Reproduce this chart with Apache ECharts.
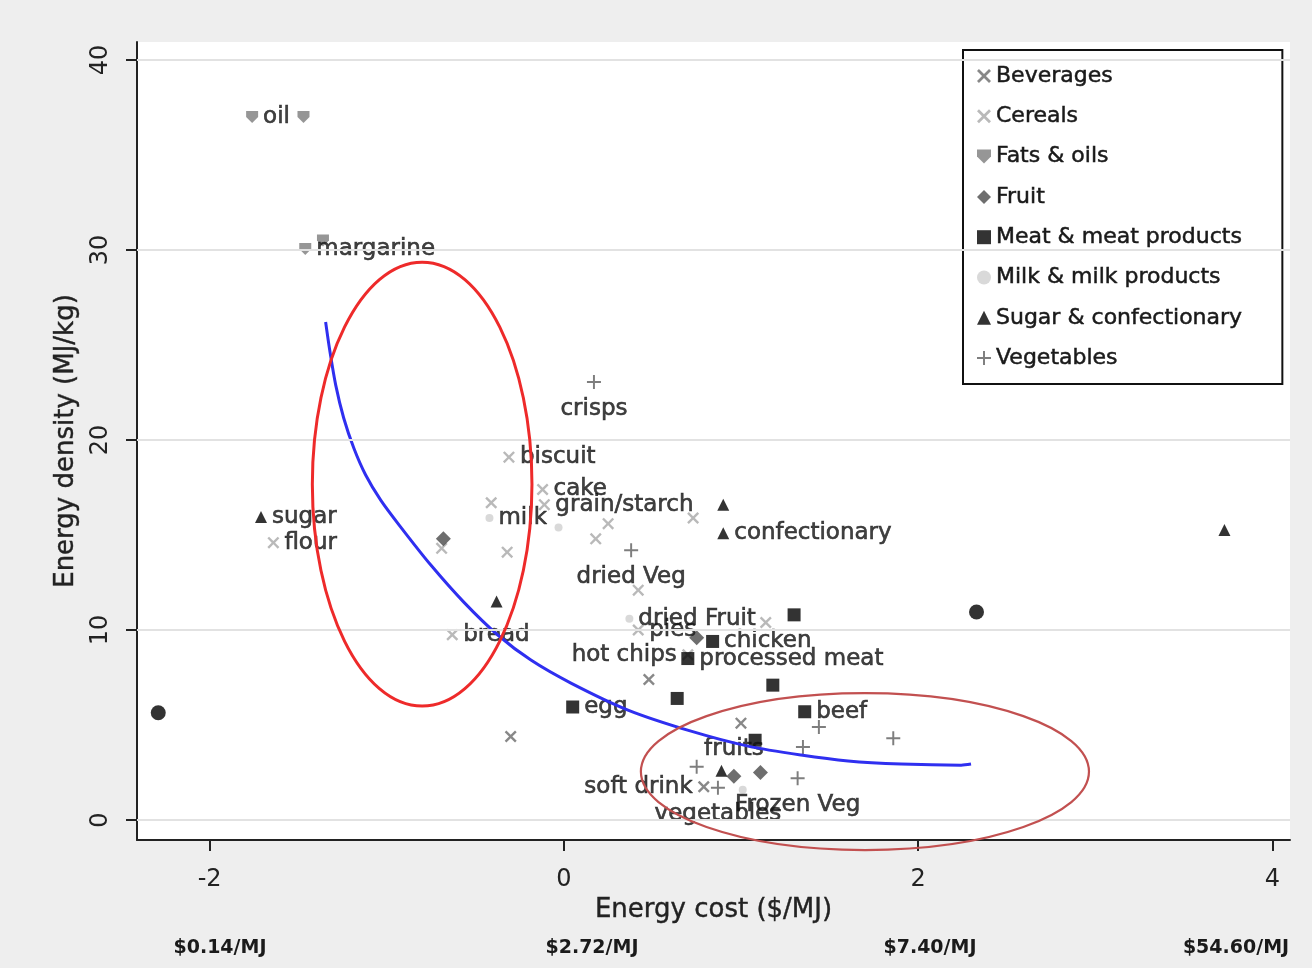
<!DOCTYPE html>
<html>
<head>
<meta charset="utf-8">
<title>Energy density vs energy cost</title>
<script src="https://cdn.jsdelivr.net/npm/echarts@6/dist/echarts.min.js"></script>
<style>
  html, body { margin: 0; padding: 0; background: #eeeeee; }
  #chart { width: 1312px; height: 968px; }
</style>
</head>
<body>
<div id="chart"></div>
<script>
// x = log energy cost, y = energy density (MJ/kg)
const beverages = [[-0.30, 4.4], [0.79, 1.75], [0.48, 7.4], [1.00, 5.1]];
const beverageNames = ['', 'soft drink', '', ''];

const cereals = [[-0.31, 19.1], [-0.41, 16.7], [-0.12, 17.4], [-0.11, 16.6], [0.25, 15.6], [0.18, 14.8],
  [0.73, 15.9], [-1.64, 14.6], [-0.69, 14.3], [-0.32, 14.1], [-0.63, 9.75], [0.42, 12.1], [0.42, 10.0],
  [1.14, 10.4], [0.70, 8.7]];
const cerealNames = ['biscuit', '', 'cake', 'grain/starch', '', '', '', 'flour', '', '', 'bread', '', 'pies', '', 'hot chips'];

const fats = [[-1.76, 37.0], [-1.47, 37.0], [-1.46, 30.05], [-1.36, 30.5]];
const fatNames = ['oil', '', 'margarine', ''];

const fruit = [[-0.68, 14.8], [0.75, 9.6], [0.96, 2.3], [1.11, 2.5]];
const fruitNames = ['', '', 'fruits', ''];

const meat = [[0.84, 9.4], [0.70, 8.5], [0.05, 5.95], [0.64, 6.4], [1.30, 10.8], [1.18, 7.1], [1.08, 4.2], [1.36, 5.7]];
const meatNames = ['chicken', 'processed meat', 'egg', '', '', '', '', 'beef'];

const milk = [[-0.42, 15.9], [-0.03, 15.4], [0.37, 10.6], [1.01, 1.6]];
const milkNames = ['milk', '', 'dried Fruit', ''];

const sugar = [[-1.71, 15.95], [-0.38, 11.5], [0.90, 16.6], [0.90, 15.1], [3.73, 15.26], [0.89, 2.6]];
const sugarNames = ['sugar', '', '', 'confectionary', '', ''];

const vegetables = [[0.17, 23.05], [0.38, 14.2], [0.75, 2.8], [0.87, 1.7], [1.32, 2.2], [1.44, 4.9], [1.86, 4.3], [1.35, 3.85]];
const vegetableNames = ['crisps', 'dried Veg', '', 'vegetables', 'Frozen Veg', '', '', ''];

const outliers = [[-2.29, 5.65], [2.33, 10.95]];

// fitted curve
const fitCurve = [[-1.345, 26.21], [-1.322, 24.74], [-1.288, 22.89], [-1.243, 21.16], [-1.186, 19.58],
  [-1.119, 18.16], [-1.034, 16.84], [-0.921, 15.42], [-0.751, 13.42], [-0.565, 11.47], [-0.373, 9.74],
  [-0.186, 8.42], [0.040, 7.21], [0.362, 5.79], [0.718, 4.68], [1.040, 3.89], [1.339, 3.42],
  [1.605, 3.11], [1.904, 2.95], [2.243, 2.89], [2.299, 2.95]];

// highlighted regions: centre and radii in data units
const ellipseCentres = [[-0.80, 17.68], [1.70, 2.55]];
const ellipseRadii = [[0.62, 11.68], [1.265, 4.13]];

const xTicks = [-2, 0, 2, 4];
const yTicks = [0, 10, 20, 30, 40];
const costLabels = ['$0.14/MJ', '$2.72/MJ', '$7.40/MJ', '$54.60/MJ'];

const FONT = 'DejaVu Sans';
const labelPos = {
  'crisps': 'bottom', 'dried Veg': 'bottom', 'vegetables': 'bottom', 'Frozen Veg': 'bottom',
  'fruits': 'top', 'soft drink': 'left', 'hot chips': 'left'
};

const cross = 'path://M1.4 0L5 3.6L8.6 0L10 1.4L6.4 5L10 8.6L8.6 10L5 6.4L1.4 10L0 8.6L3.6 5L0 1.4Z';
const plus = 'path://M4.3 0H5.7V4.3H10V5.7H5.7V10H4.3V5.7H0V4.3H4.3Z';
const shield = 'path://M0 0L10 0L10 5L5 10L0 5Z';

function points(arr, names) {
  return arr.map((p, i) => {
    const name = names ? names[i] : '';
    const item = { value: p, name: name };
    if (name) {
      const pos = labelPos[name] || 'right';
      item.label = { show: true, position: pos, distance: pos === 'bottom' || pos === 'top' ? 8 : 5 };
    }
    return item;
  });
}

function scatter(name, arr, names, symbol, size, color) {
  return {
    name: name,
    type: 'scatter',
    symbol: symbol,
    symbolSize: size,
    itemStyle: { color: color },
    z: 3,
    label: {
      show: false, formatter: '{b}', color: '#111', fontFamily: FONT, fontSize: 23,
      textBorderColor: '#111', textBorderWidth: 0.6
    },
    emphasis: { disabled: true },
    data: points(arr, names)
  };
}

const chart = echarts.init(document.getElementById('chart'));

const option = {
  animation: false,
  backgroundColor: '#eeeeee',
  grid: { left: 137, right: 22, top: 42, bottom: 128, show: true, backgroundColor: '#ffffff', borderWidth: 0 },
  legend: {
    orient: 'vertical',
    left: 963,
    top: 50,
    padding: [13, 40, 13, 14],
    backgroundColor: '#ffffff',
    borderColor: '#111111',
    borderWidth: 2,
    itemWidth: 14,
    itemHeight: 14,
    itemGap: 14.3,
    textStyle: {
      fontFamily: FONT, fontSize: 22, color: '#1a1a1a', lineHeight: 26,
      textBorderColor: '#1a1a1a', textBorderWidth: 0.5
    },
    data: ['Beverages', 'Cereals', 'Fats & oils', 'Fruit', 'Meat & meat products', 'Milk & milk products',
      'Sugar & confectionary', 'Vegetables']
  },
  xAxis: {
    type: 'value',
    min: -2.41,
    max: 4.10,
    name: 'Energy cost ($/MJ)',
    nameLocation: 'middle',
    nameGap: 56,
    nameTextStyle: { fontFamily: FONT, fontSize: 26, color: '#222', textBorderColor: '#222', textBorderWidth: 0.4 },
    axisLine: { show: true, onZero: false, lineStyle: { color: '#222', width: 2 } },
    axisTick: { show: true, length: 11, customValues: xTicks, lineStyle: { color: '#222', width: 2 } },
    axisLabel: { customValues: xTicks, margin: 28, fontFamily: FONT, fontSize: 24, color: '#222' },
    splitLine: { show: false }
  },
  yAxis: {
    type: 'value',
    min: -1.05,
    max: 40.95,
    name: 'Energy density (MJ/kg)',
    nameLocation: 'middle',
    nameGap: 58,
    nameTextStyle: { fontFamily: FONT, fontSize: 26, color: '#222', textBorderColor: '#222', textBorderWidth: 0.4 },
    axisLine: { show: true, onZero: false, lineStyle: { color: '#222', width: 2 } },
    axisTick: { show: true, length: 11, customValues: yTicks, lineStyle: { color: '#222', width: 2 } },
    axisLabel: { customValues: yTicks, rotate: 90, margin: 24, fontFamily: FONT, fontSize: 24, color: '#222' },
    splitLine: { show: false }
  },
  series: [
    {
      name: 'grid',
      type: 'line',
      data: [],
      z: 1,
      markLine: {
        silent: true,
        symbol: ['none', 'none'],
        label: { show: false },
        lineStyle: { color: '#e2e2e2', width: 2, type: 'solid' },
        data: yTicks.map(v => ({ yAxis: v }))
      }
    },
    scatter('Beverages', beverages, beverageNames, cross, 12, '#6a6a6a'),
    scatter('Cereals', cereals, cerealNames, cross, 12, '#a8a8a8'),
    scatter('Fats & oils', fats, fatNames, shield, 12, '#7c7c7c'),
    scatter('Fruit', fruit, fruitNames, 'diamond', 15, '#4a4a4a'),
    scatter('Meat & meat products', meat, meatNames, 'rect', 13, '#000000'),
    scatter('Milk & milk products', milk, milkNames, 'circle', 8, '#cfcfcf'),
    scatter('Sugar & confectionary', sugar, sugarNames, 'triangle', 12, '#000000'),
    scatter('Vegetables', vegetables, vegetableNames, plus, 14, '#5e5e5e'),
    scatter('other', outliers, null, 'circle', 15, '#000000'),
    {
      name: 'fit',
      type: 'line',
      data: fitCurve,
      smooth: 0.3,
      symbol: 'none',
      z: 4,
      lineStyle: { color: '#2f2ff0', width: 3 }
    }
  ]
};

chart.setOption(option);

// ellipses and cost labels drawn once the axes exist
const colours = ['#ee2a2a', '#c25050'];
const widths = [3, 2.2];
const ellipseEls = ellipseCentres.map((c, i) => {
  const p = chart.convertToPixel({ gridIndex: 0 }, c);
  const q = chart.convertToPixel({ gridIndex: 0 }, [c[0] + ellipseRadii[i][0], c[1] + ellipseRadii[i][1]]);
  return {
    type: 'ellipse',
    z: 10,
    silent: true,
    shape: { cx: p[0], cy: p[1], rx: Math.abs(q[0] - p[0]), ry: Math.abs(q[1] - p[1]) },
    style: { fill: 'transparent', stroke: colours[i], lineWidth: widths[i] }
  };
});
const costX = [220, 592, 930, 1236];
const costEls = costLabels.map((t, i) => ({
  type: 'text',
  x: costX[i],
  y: 948,
  silent: true,
  style: {
    text: t, fill: '#1a1a1a', font: 'bold 19px "DejaVu Sans"',
    textAlign: 'center', textVerticalAlign: 'middle'
  }
}));
chart.setOption({ graphic: ellipseEls.concat(costEls) });
</script>
</body>
</html>
